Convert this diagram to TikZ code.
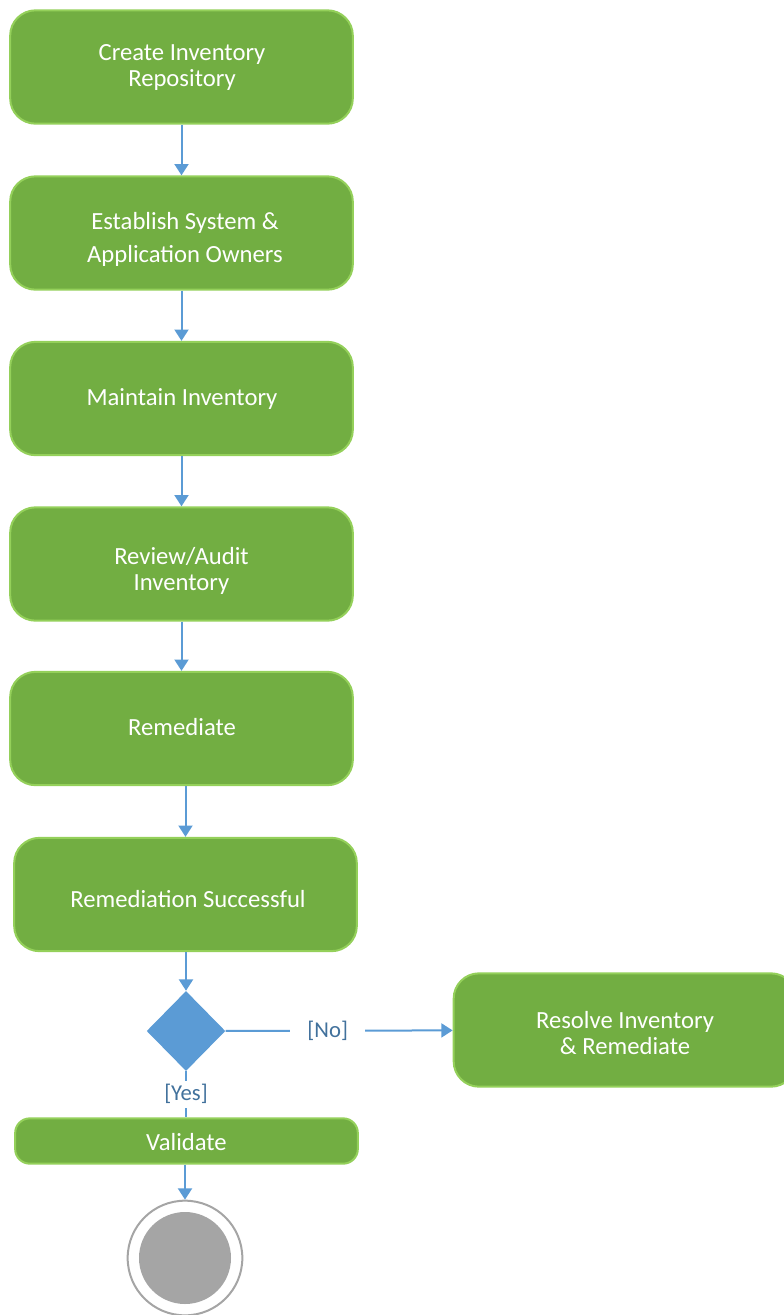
\documentclass[tikz,border=0pt]{standalone}
\usepackage{fontspec}
\setmainfont{Carlito}
\usetikzlibrary{arrows.meta,shapes.geometric}
\definecolor{gfill}{HTML}{72AE42}
\definecolor{gline}{HTML}{94D05A}
\definecolor{blu}{HTML}{5B9BD5}
\definecolor{lbl}{HTML}{41719C}
\definecolor{gry}{HTML}{A5A5A5}
\tikzset{
  act/.style={draw=gline, line width=1.5pt, fill=gfill, rounded corners=19pt, minimum width=257pt, minimum height=85pt, inner sep=0pt},
  txt/.style={text=white, font=\fontsize{18.5}{19.5}\selectfont, align=center, inner sep=0pt},
  flow/.style={draw=blu, line width=1.5pt, -{Triangle[width=10.5pt,length=8.5pt]}},
  plain/.style={draw=blu, line width=1.5pt},
  lab/.style={text=lbl, font=\fontsize{17}{19}\selectfont, fill=white, inner sep=2pt}
}
\begin{document}
\begin{tikzpicture}[x=0.75pt,y=-0.75pt]
\useasboundingbox (0,0) rectangle (783,1315);
\node[act] (a1) at (181.5,67) {};
\node[act] (a2) at (181.5,233) {};
\node[act] (a3) at (181.5,398.5) {};
\node[act] (a4) at (181.5,564) {};
\node[act] (a5) at (181.5,728.5) {};
\node[act] (a6) at (185.5,894.5) {};
\node[diamond, fill=blu, minimum width=59pt, minimum height=60pt, inner sep=0pt] (d) at (186,1031) {};
\node[act] (r) at (625,1030) {};
\node[act, minimum height=34pt, rounded corners=11pt] (v) at (186.5,1141) {};
\node[circle, draw=gry, line width=1.5pt, fill=white, minimum size=86pt, inner sep=0pt] (f) at (185,1258) {};
\node[circle, fill=gry, minimum size=69pt, inner sep=0pt] (fi) at (185,1258) {};
\node[txt] (t1) at (182,67) {Create Inventory\\Repository};
\node[txt, font=\fontsize{18.5}{24.75}\selectfont] (t2) at (185,239.5) {Establish System \&\\Application Owners};
\node[txt] (t3) at (182,398.5) {Maintain Inventory};
\node[txt] (t4) at (181.5,570.5) {Review/Audit\\Inventory};
\node[txt] (t5) at (182,727.5) {Remediate};
\node[txt] (t6) at (188,899) {Remediation Successful};
\node[txt] (t7) at (625,1033.5) {Resolve Inventory\\\& Remediate};
\node[txt] (t8) at (186.5,1142) {Validate};
\draw[flow] (a1) -- (a2);
\draw[flow] (a2) -- (a3);
\draw[flow] (a3) -- (a4);
\draw[flow] (a4) -- (a5);
\draw[flow] (a5.south -| a6) -- (a6);
\draw[flow] (a6.south -| d) -- (d);
\draw[flow] (d) -- node[lab, pos=0.45, inner xsep=13pt] {[No]} (r);
\draw[plain] (d) -- node[lab, pos=0.5, inner ysep=3pt] {[Yes]} (v.north -| d);
\draw[flow] (v.south -| f) -- (f);
\end{tikzpicture}
\end{document}
